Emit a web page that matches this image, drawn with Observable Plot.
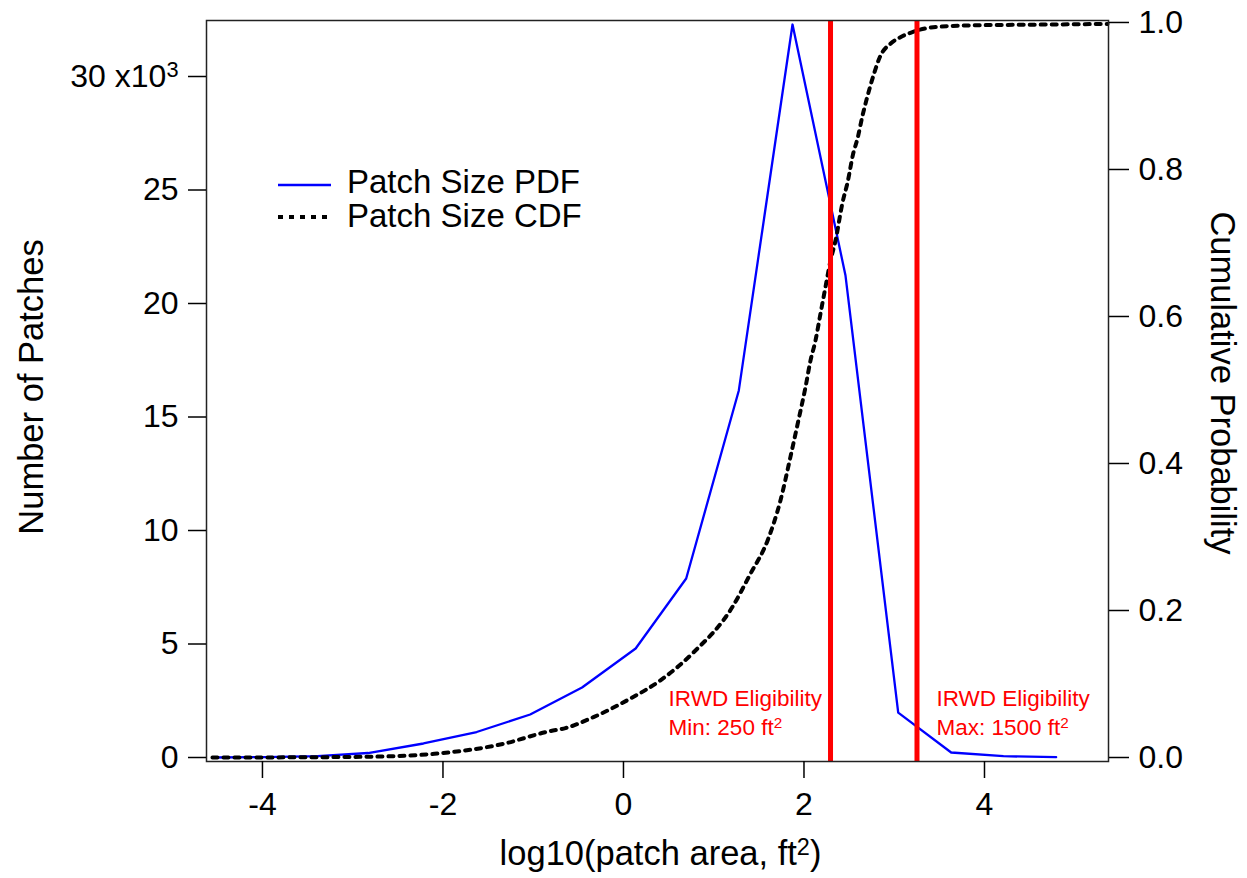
<!DOCTYPE html>
<html><head><meta charset="utf-8">
<script src="https://cdn.jsdelivr.net/npm/d3@7"></script>
<script src="https://cdn.jsdelivr.net/npm/@observablehq/plot@0.6"></script>
<style>html,body{margin:0;padding:0;background:#fff}</style>
</head><body><div id="chart"></div>
<script>
// ---- data ----
const pdfX = [-4.554, -3.97, -3.39, -2.83, -2.216, -1.627, -1.034, -0.459, 0.135, 0.695, 1.278, 1.873, 2.46, 3.044, 3.631, 4.21, 4.794];
const pdfCount = [0, 20, 60, 198, 617, 1123, 1894, 3084, 4800, 7885, 16170, 32290, 21230, 1980, 220, 57, 13];

const cdfX = [-4.554, -3.579, -2.837, -2.094, -1.352, -0.809, -0.643, -0.332, 0.044, 0.410, 0.776, 1.208, 1.407, 1.596, 1.740, 1.850, 1.939, 2.017, 2.072, 2.127, 2.183, 2.238, 2.294, 2.349, 2.427, 2.482, 2.548, 2.593, 2.648, 2.704, 2.770, 2.848, 2.958, 3.069, 3.180, 3.402, 3.812, 4.543, 5.363];
const cdfProb = [0.0, 0.0003, 0.001, 0.005, 0.018, 0.036, 0.040, 0.055, 0.078, 0.105, 0.143, 0.205, 0.250, 0.295, 0.350, 0.409, 0.459, 0.504, 0.540, 0.567, 0.604, 0.640, 0.676, 0.703, 0.755, 0.782, 0.823, 0.842, 0.873, 0.900, 0.928, 0.955, 0.971, 0.980, 0.986, 0.993, 0.996, 0.997, 0.998];

const eligibilityX = [2.294, 3.252];
const annotX = [0.5, 3.468];
const annotY = [970, 970];
const annotText = ["IRWD Eligibility\nMin: 250 ft\u00B2", "IRWD Eligibility\nMax: 1500 ft\u00B2"];

const xTicks = [-4, -2, 0, 2, 4];
const leftTicks = [0, 5000, 10000, 15000, 20000, 25000, 30000];
const rightTicks = [0, 0.2, 0.4, 0.6, 0.8, 1.0];
const seriesNames = ["Patch Size PDF", "Patch Size CDF"];
const titles = {x: "log10(patch area, ft\u00B2)", yLeft: "Number of Patches", yRight: "Cumulative Probability"};

// right axis (probability) mapped onto the count scale
const K = 32380;
const pdf = pdfX.map((x, i) => ({x, y: pdfCount[i]}));
const cdf = cdfX.map((x, i) => ({x, y: cdfProb[i] * K}));
const annots = annotX.map((x, i) => ({x, y: annotY[i], t: annotText[i]}));

const FONT = "'Liberation Sans', Arial, Helvetica, sans-serif";
const CDF_DASH = "5,6";

const chart = Plot.plot({
  width: 1247,
  height: 878,
  marginLeft: 206,
  marginRight: 139,
  marginTop: 20,
  marginBottom: 117,
  style: {fontFamily: FONT, fontSize: "32px", background: "#fff", color: "#000"},
  x: {domain: [-4.62, 5.374]},
  y: {domain: [-176, 32467]},
  marks: [
    Plot.line(pdf, {x: "x", y: "y", stroke: "#0000ff", strokeWidth: 2.3}),
    Plot.line(cdf, {x: "x", y: "y", stroke: "#000", strokeWidth: 4, strokeDasharray: CDF_DASH, curve: "monotone-x"}),
    Plot.ruleX(eligibilityX, {stroke: "#ff0000", strokeWidth: 5}),
    Plot.text(annots, {x: "x", y: "y", text: "t", fill: "#ff0000", fontSize: 22.5, textAnchor: "start", lineAnchor: "bottom", lineHeight: 1.33}),
    Plot.frame({stroke: "#222", strokeWidth: 1.5}),
    Plot.axisX({ticks: xTicks, tickSize: 17, tickPadding: 14, fontSize: 32, strokeWidth: 1.5, label: null, tickFormat: d => `${d}`}),
    Plot.axisY({anchor: "left", ticks: leftTicks, tickSize: 18, tickPadding: 10, fontSize: 32, strokeWidth: 1.5, label: null,
      tickFormat: d => d === 30000 ? "30 x10\u00B3" : `${d / 1000}`}),
    Plot.axisY({anchor: "right", ticks: rightTicks.map(p => p * K), tickSize: 20, tickPadding: 10, fontSize: 32, strokeWidth: 1.5, label: null,
      tickFormat: d => (d / K).toFixed(1)}),
    Plot.text([titles.yLeft], {frameAnchor: "left", dx: -164, dy: -4, rotate: -90, textAnchor: "middle", lineAnchor: "bottom", fontSize: 34.5}),
    Plot.text([titles.yRight], {frameAnchor: "right", dx: 102, dy: -8, rotate: 90, textAnchor: "middle", lineAnchor: "bottom", fontSize: 34.5}),
    Plot.text([titles.x], {frameAnchor: "bottom", dx: 3, dy: 103, textAnchor: "middle", lineAnchor: "bottom", fontSize: 34.5})
  ]
});

// turn ² / ³ into real raised superscript digits
const NS = "http://www.w3.org/2000/svg";
const SUP = {"\u00B2": "2", "\u00B3": "3"};
chart.querySelectorAll("text, tspan").forEach(el => {
  if (el.childNodes.length !== 1 || el.firstChild.nodeType !== 3) return;
  const s = el.textContent;
  if (!/[\u00B2\u00B3]/.test(s)) return;
  el.textContent = "";
  s.split(/([\u00B2\u00B3])/).forEach(p => {
    if (!p) return;
    if (SUP[p]) {
      const t = document.createElementNS(NS, "tspan");
      t.setAttribute("baseline-shift", "45%");
      t.setAttribute("font-size", "68%");
      t.textContent = SUP[p];
      el.appendChild(t);
    } else {
      el.appendChild(document.createTextNode(p));
    }
  });
});

// legend inside the plot area
const svg = d3.select(chart);
const lg = svg.append("g").attr("font-family", FONT).attr("font-size", 33).attr("text-anchor", "start");
const legendStyles = [
  {stroke: "#0000ff", width: 2.3, dash: null, lineY: 185, textY: 193},
  {stroke: "#000", width: 4, dash: CDF_DASH, lineY: 217, textY: 227}
];
seriesNames.forEach((name, i) => {
  const s = legendStyles[i];
  const ln = lg.append("line").attr("x1", 278).attr("x2", 331).attr("y1", s.lineY).attr("y2", s.lineY)
    .attr("stroke", s.stroke).attr("stroke-width", s.width);
  if (s.dash) ln.attr("stroke-dasharray", s.dash);
  lg.append("text").attr("x", 347).attr("y", s.textY).attr("fill", "#000").attr("text-anchor", "start").text(name);
});

document.getElementById("chart").appendChild(chart);
</script>
</body></html>
